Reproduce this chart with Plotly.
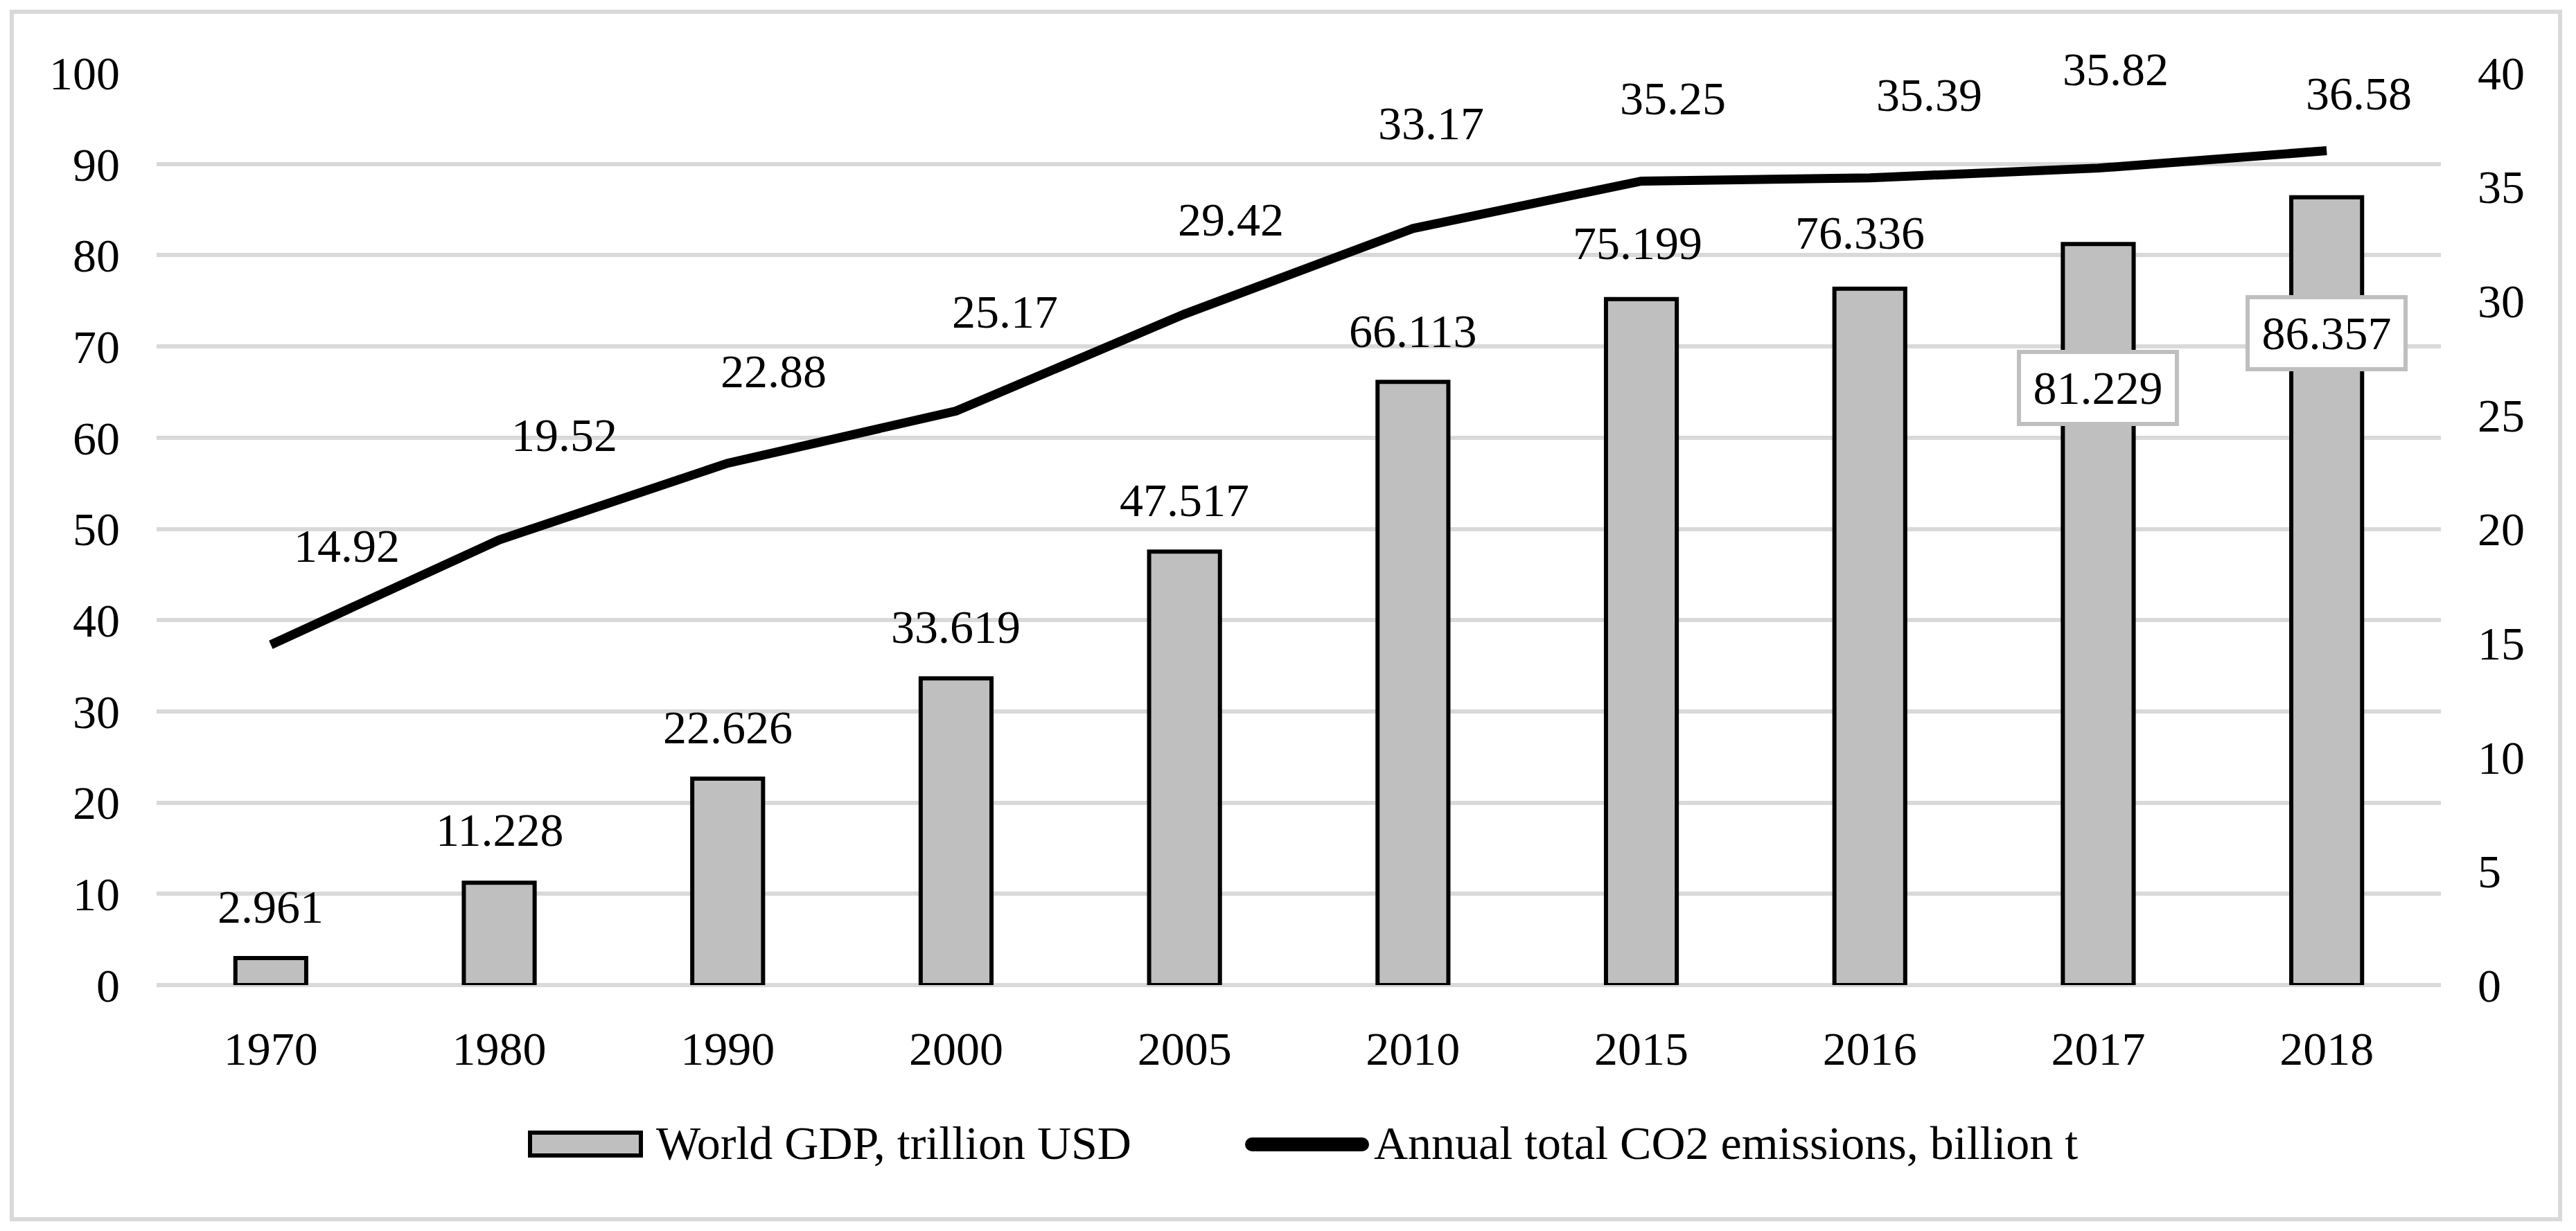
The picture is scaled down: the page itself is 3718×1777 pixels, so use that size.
import plotly.graph_objects as go

# data
years = ["1970", "1980", "1990", "2000", "2005", "2010", "2015", "2016", "2017", "2018"]
gdp = [2.961, 11.228, 22.626, 33.619, 47.517, 66.113, 75.199, 76.336, 81.229, 86.357]
co2 = [14.92, 19.52, 22.88, 25.17, 29.42, 33.17, 35.25, 35.39, 35.82, 36.58]

gdp_name = "World GDP, trillion USD"
co2_name = "Annual total CO2 emissions, billion t"

# label placement (pixel offsets from the data point, Excel-style hand placed labels)
co2_dx = [110, 94, 66, 71, 67, 26, 45, 86, 25, 46]
co2_dy = [143, 151, 133, 143, 136, 152, 119, 120, 143, 83]
gdp_dx = [0, 0, 0, 0, 0, 0, -6, -14, 0, 0]
gdp_dy = [74, 76, 74, 74, 74, 73, 81, 81, -208, -196]
boxed = [False] * 8 + [True, True]

FONT = "Times New Roman, Liberation Serif, serif"
FS = 68
GRID = "#d9d9d9"
BAR = "#bfbfbf"

# page geometry (the html body keeps an 8px margin)
OFF = 8
W, H = 3718 - 2 * OFF, 1777 - 2 * OFF
PL, PR, PT, PB = 226, 3523, 105, 1422   # plot area in screen pixels


def px_x(v):
    return (v - PL) / (PR - PL)


def px_y(v):
    return (PB - v) / (PB - PT)


fig = go.Figure()

fig.add_trace(go.Bar(x=years, y=gdp, name=gdp_name,
                     marker=dict(color=BAR, line=dict(color="black", width=6)),
                     showlegend=False))

fig.add_trace(go.Scatter(x=years, y=co2, name=co2_name, yaxis="y2",
                         mode="lines", line=dict(color="black", width=13),
                         showlegend=False))

# annotations on a category axis take the category index
annotations = []
for i, y in enumerate(years):
    a = dict(x=i, y=gdp[i], yref="y", xref="x", text=f"{gdp[i]:.3f}",
             showarrow=False, xshift=gdp_dx[i], yshift=gdp_dy[i],
             font=dict(family=FONT, size=FS, color="black"))
    if boxed[i]:
        a.update(bgcolor="white", bordercolor=BAR, borderwidth=6,
                 borderpad=0, width=222, height=98)
    annotations.append(a)
    annotations.append(dict(x=i, y=co2[i], yref="y2", xref="x", text=f"{co2[i]:.2f}",
                            showarrow=False, xshift=co2_dx[i], yshift=co2_dy[i],
                            font=dict(family=FONT, size=FS, color="black")))

# hand drawn legend
for txt, x0 in [(gdp_name, 945), (co2_name, 1981)]:
    annotations.append(dict(x=px_x(x0), y=px_y(1650), xref="paper", yref="paper",
                            text=txt, showarrow=False, xanchor="left", yanchor="middle",
                            font=dict(family=FONT, size=FS, color="black")))

shapes = [
    # outer frame
    dict(type="rect", xref="paper", yref="paper",
         x0=px_x(17), x1=px_x(3695), y0=px_y(17), y1=px_y(1760),
         line=dict(color=GRID, width=6), fillcolor="rgba(0,0,0,0)", layer="below"),
    # bar swatch
    dict(type="rect", xref="paper", yref="paper",
         x0=px_x(765), x1=px_x(925), y0=px_y(1635), y1=px_y(1668),
         line=dict(color="black", width=6), fillcolor=BAR),
    # line swatch with round ends
    dict(type="rect", xref="paper", yref="paper",
         x0=px_x(1807), x1=px_x(1966), y0=px_y(1642), y1=px_y(1662),
         line=dict(width=0), fillcolor="black"),
    dict(type="circle", xref="paper", yref="paper",
         x0=px_x(1797), x1=px_x(1817), y0=px_y(1642), y1=px_y(1662),
         line=dict(width=0), fillcolor="black"),
    dict(type="circle", xref="paper", yref="paper",
         x0=px_x(1956), x1=px_x(1976), y0=px_y(1642), y1=px_y(1662),
         line=dict(width=0), fillcolor="black"),
]

fig.update_layout(
    width=W, height=H,
    margin=dict(l=PL - OFF, r=W - (PR - OFF), t=PT - OFF, b=H - (PB - OFF), pad=0),
    paper_bgcolor="white", plot_bgcolor="white",
    bargap=0.69,
    font=dict(family=FONT, size=FS, color="black"),
    xaxis=dict(type="category", range=[-0.5, len(years) - 0.5],
               showgrid=False, showline=False, zeroline=False,
               ticks="", ticklabelstandoff=46,
               tickfont=dict(family=FONT, size=FS, color="black")),
    yaxis=dict(range=[0, 100], dtick=10, showline=False, ticks="",
               gridcolor=GRID, gridwidth=6,
               zeroline=True, zerolinecolor=GRID, zerolinewidth=6,
               ticklabelstandoff=52,
               tickfont=dict(family=FONT, size=FS, color="black")),
    yaxis2=dict(range=[0, 40], dtick=5, overlaying="y", side="right",
                showgrid=False, zeroline=False, showline=False, ticks="",
                ticklabelstandoff=52,
                tickfont=dict(family=FONT, size=FS, color="black")),
    annotations=annotations,
    shapes=shapes,
    showlegend=False,
)

fig.write_html("out.html")
